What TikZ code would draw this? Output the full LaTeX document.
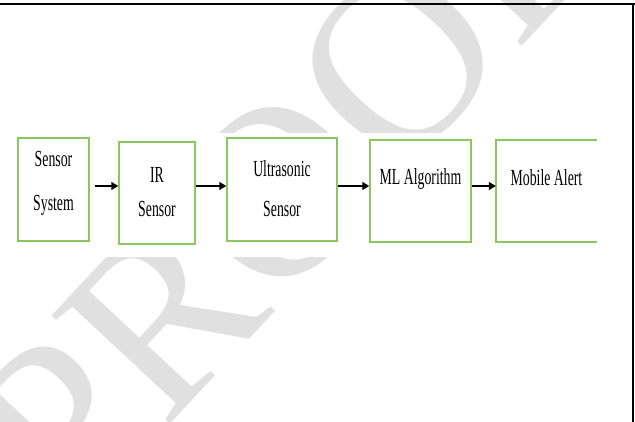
\documentclass[tikz,border=0pt]{standalone}
\usepackage{fontspec}
\setmainfont{Liberation Serif}
\newfontfamily\blkfont[FakeStretch=0.6]{Liberation Serif}
\usetikzlibrary{arrows.meta, positioning, calc}
\definecolor{blkverde}{RGB}{140,198,94}
\tikzset{
  blk/.style = {draw=blkverde, line width=1.5pt, inner sep=0pt},
  blkab/.style = {draw=blkverde, line width=1.5pt},
  blkrot/.style = {font=\blkfont\fontsize{23}{40}\selectfont, align=center,
    anchor=base, inner sep=0pt},
  blkseta/.style = {-{Triangle[length=7pt, width=8pt]}, line width=1.5pt, draw=black},
  marca/.style = {font=\fontsize{245}{245}\selectfont, text=black!12,
    rotate=47, inner sep=0pt}
}

\begin{document}
\begin{tikzpicture}[x=1pt, y=-1pt]
  \useasboundingbox (0,0) rectangle (635,422);
  \begin{scope}
    \clip (0,0) rectangle (635,422);
    \node [marca] (marca) at (282,187) {PROOF};
    \fill [white] (0,133) rectangle (600,257);
  \end{scope}
  \node [blk, minimum width=71pt, minimum height=103pt] (b1) at (53.5,189.5) {};
  \node [blk, minimum width=76pt, minimum height=102pt] (b2) at (157,193) {};
  \node [blk, minimum width=110pt, minimum height=103pt] (b3) at (282,189.5) {};
  \node [blk, minimum width=101pt, minimum height=102pt] (b4) at (420.5,191) {};
  \node [inner sep=0pt, minimum width=101pt, minimum height=102pt] (b5) at (546.5,191) {};
  \draw [blkab] (b5.north east) -- (b5.north west) -- (b5.south west) -- (b5.south east);
  \node [blkrot] (t1) at ([yshift=-73.5pt]b1.north) {Sensor\\[4pt]System};
  \node [blkrot] (t2) at ([yshift=-75pt]b2.north) {IR\\[-6pt]Sensor};
  \node [blkrot] (t3) at ([yshift=-79pt]b3.north) {Ultrasonic\\Sensor};
  \node [blkrot] (t4) at ([yshift=-45.7pt]b4.north) {ML Algorithm};
  \node [blkrot] (t5) at ([yshift=-45.7pt]b5.north) {Mobile Alert};
  \coordinate (ya) at (0,186);
  \draw [blkseta, shorten <=5pt] (b1.east |- ya) -- (b2.west |- ya);
  \foreach \a/\b in {b2/b3, b3/b4, b4/b5}
    \draw [blkseta] (\a.east |- ya) -- (\b.west |- ya);
  % moldura
  \draw [line width=2pt] (0,4) -- (635,4);
  \draw [line width=1.5pt] (633,4) -- (633,422);
\end{tikzpicture}
\end{document}
